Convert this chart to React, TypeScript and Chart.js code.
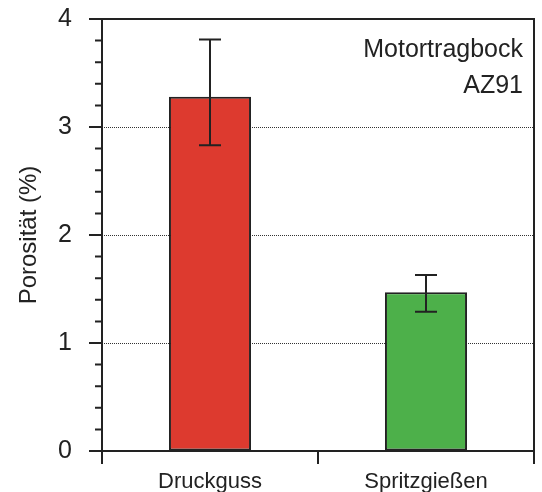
import React, { useEffect, useRef } from "react";
import { Chart, registerables } from "chart.js";

Chart.register(...registerables);

const categories = ["Druckguss", "Spritzgießen"];
const porosity = [3.28, 1.47];
const errorMin = [2.83, 1.29];
const errorMax = [3.81, 1.63];
const yMin = 0;
const yMax = 4;
const yMajorStep = 1;
const yMinorStep = 0.2;
const annotationLines = ["Motortragbock", "AZ91"];
const yTitle = "Porosität (%)";

const barColors = ["#DD3A2F", "#4DB04A"];
const ink = "#222222";
const FONT = "'Liberation Sans', Arial, Helvetica, sans-serif";

const decorPlugin = {
  id: "decor",
  afterDatasetsDraw(chart: any) {
    const { ctx } = chart;
    const y = chart.scales.y;
    const meta = chart.getDatasetMeta(0);
    ctx.save();
    ctx.strokeStyle = ink;
    ctx.lineWidth = 2;
    meta.data.forEach((bar: any, i: number) => {
      const x = bar.x;
      const yTop = y.getPixelForValue(errorMax[i]);
      const yBot = y.getPixelForValue(errorMin[i]);
      const cap = 11;
      ctx.beginPath();
      ctx.moveTo(x, yTop);
      ctx.lineTo(x, yBot);
      ctx.moveTo(x - cap, yTop);
      ctx.lineTo(x + cap, yTop);
      ctx.moveTo(x - cap, yBot);
      ctx.lineTo(x + cap, yBot);
      ctx.stroke();
    });
    ctx.restore();
  },
  afterDraw(chart: any) {
    const { ctx, chartArea } = chart;
    const { left, right, top, bottom } = chartArea;
    const y = chart.scales.y;
    const x = chart.scales.x;
    ctx.save();
    ctx.strokeStyle = ink;
    ctx.lineWidth = 2;
    ctx.beginPath();
    ctx.rect(left, top, right - left, bottom - top);
    ctx.stroke();
    // y ticks
    ctx.beginPath();
    const nMinor = Math.round((yMax - yMin) / yMinorStep);
    for (let k = 0; k <= nMinor; k++) {
      const v = yMin + k * yMinorStep;
      const py = y.getPixelForValue(v);
      const isMajor = Math.abs(v / yMajorStep - Math.round(v / yMajorStep)) < 1e-6;
      const len = isMajor ? 13 : 7;
      ctx.moveTo(left - len, py);
      ctx.lineTo(left, py);
    }
    // x ticks at category boundaries
    for (let i = 0; i <= categories.length; i++) {
      const px = x.getPixelForValue(i - 0.5);
      ctx.moveTo(px, bottom);
      ctx.lineTo(px, bottom + 13);
    }
    ctx.stroke();
    // annotation
    ctx.fillStyle = ink;
    ctx.font = `25px ${FONT}`;
    ctx.textAlign = "right";
    ctx.textBaseline = "alphabetic";
    annotationLines.forEach((line, i) => {
      ctx.fillText(line, right - 11, top + 38 + i * 36);
    });
    ctx.restore();
  },
};

export default function App() {
  const ref = useRef<HTMLCanvasElement | null>(null);
  useEffect(() => {
    if (!ref.current) return;
    const chart = new Chart(ref.current, {
      type: "bar",
      data: {
        labels: categories,
        datasets: [
          {
            data: porosity,
            backgroundColor: barColors,
            borderColor: ink,
            borderWidth: 2,
            borderSkipped: false,
            categoryPercentage: 1,
            barPercentage: 0.38,
          },
        ],
      },
      options: {
        responsive: false,
        animation: false,
        devicePixelRatio: 1,
        layout: { padding: { top: 19, right: 8, left: 0, bottom: 0 } },
        plugins: {
          legend: { display: false },
          tooltip: { enabled: false },
        },
        scales: {
          x: {
            type: "category",
            grid: { display: false },
            border: { display: false },
            ticks: {
              color: ink,
              font: { family: FONT, size: 22 },
              padding: 10,
            },
            afterFit(scale: any) {
              scale.height = 41;
              scale.paddingLeft = 0;
              scale.paddingRight = 0;
              scale.paddingTop = 0;
              scale.paddingBottom = 0;
            },
          },
          y: {
            min: yMin,
            max: yMax,
            grid: {
              drawTicks: false,
              color: (c: any) =>
                c.tick && (c.tick.value === yMin || c.tick.value === yMax)
                  ? "rgba(0,0,0,0)"
                  : "#333333",
              lineWidth: 1,
            },
            border: { display: false, dash: [1, 1] },
            ticks: {
              stepSize: yMajorStep,
              color: ink,
              font: { family: FONT, size: 25 },
              padding: 30,
            },
            title: {
              display: true,
              text: yTitle,
              color: ink,
              font: { family: FONT, size: 24 },
              padding: { top: 15, bottom: 0 },
            },
            afterFit(scale: any) {
              scale.width = 102;
              scale.paddingLeft = 0;
              scale.paddingRight = 0;
              scale.paddingTop = 0;
              scale.paddingBottom = 0;
            },
          },
        },
      },
      plugins: [decorPlugin],
    });
    return () => chart.destroy();
  }, []);
  return (
    <div style={{ position: "absolute", left: 0, top: 0, width: 542, height: 492, background: "#fff" }}>
      <canvas ref={ref} width={542} height={492} style={{ display: "block" }} />
    </div>
  );
}
